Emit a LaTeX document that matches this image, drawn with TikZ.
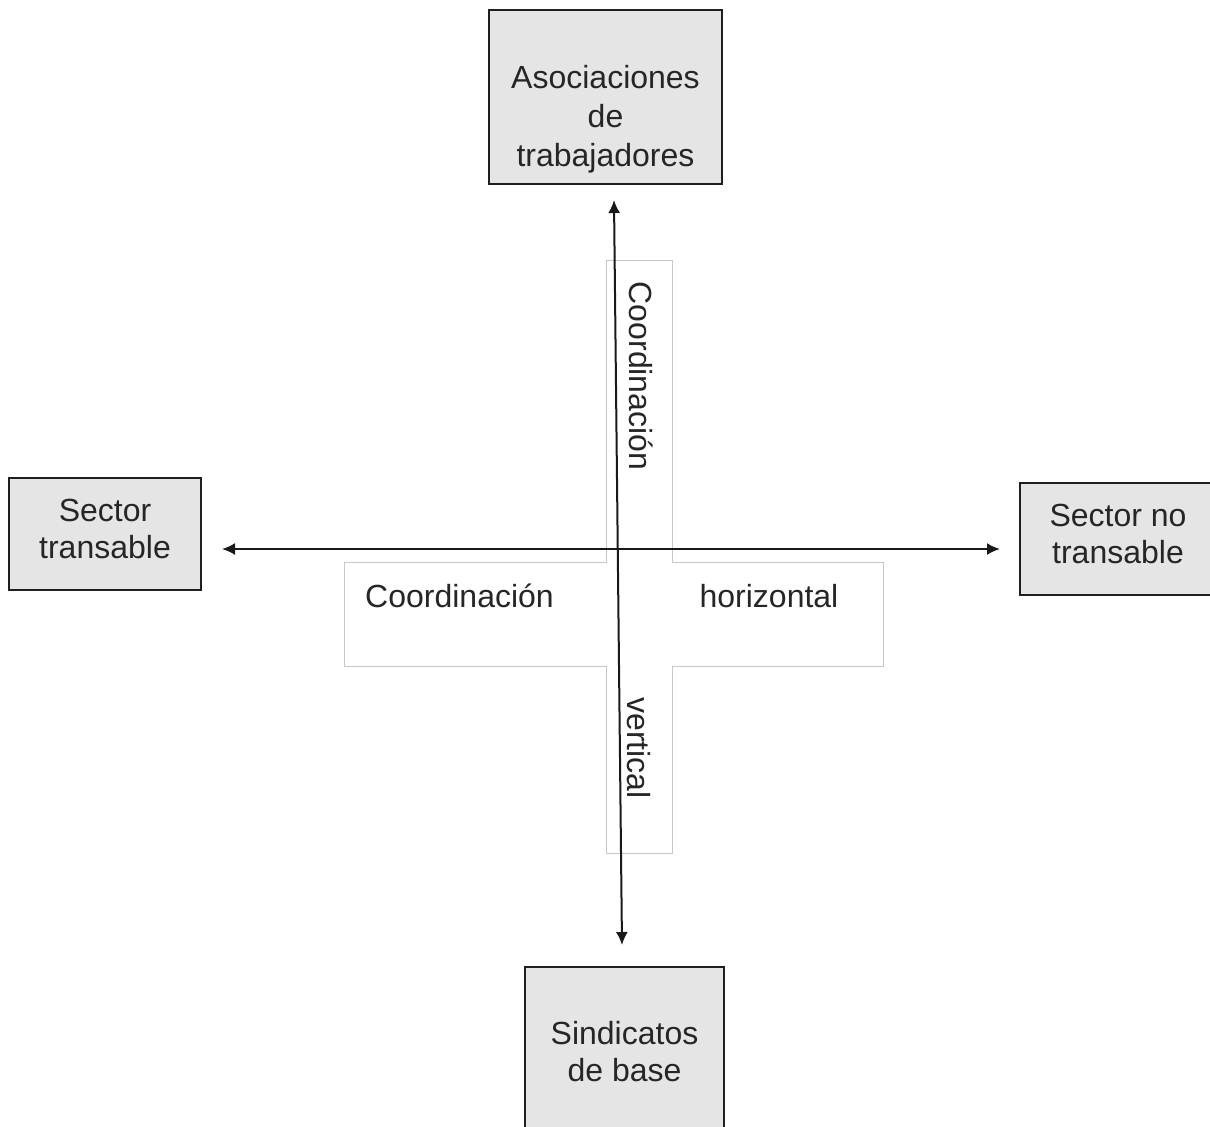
\documentclass[tikz,border=0pt]{standalone}
\usepackage{fontspec}
\setmainfont{Liberation Sans}
\usepackage{tikz}
\usetikzlibrary{arrows.meta}
\usetikzlibrary{positioning}
\tikzstyle{every node}+=[inner sep=0pt]
\tikzstyle{actor} = [rectangle, draw=black!88, line width=1pt, fill=black!10, text=black!85, align=center, font=\fontsize{16}{18.5}\selectfont]
\tikzstyle{tag} = [text=black!85, font=\fontsize{16}{18.5}\selectfont]
\tikzstyle{frame} = [draw=black!22, line width=0.5pt]
\tikzstyle{line} = [draw, black!90, line width=1pt, {Latex[length=6.5pt,width=6pt]}-{Latex[length=6.5pt,width=6pt]}]

\begin{document}
\begin{tikzpicture}[x=0.5pt, y=-0.5pt]
          \clip (0,0) rectangle (1210,1126);
          \useasboundingbox (0,0) rectangle (1210,1126);
          % Cross frame
          \draw [frame] (606,260) -- (672,260) -- (672,562) -- (883,562) -- (883,666) -- (672,666) -- (672,853)
                -- (606,853) -- (606,666) -- (344,666) -- (344,562) -- (606,562) -- cycle;
          % Place nodes
          \node [actor, minimum width=116.5pt, minimum height=87pt] (asoc) at (605.5,97)
                {\raisebox{-15.5pt}[0pt][0pt]{\fontsize{16}{19.5}\selectfont\begin{tabular}{@{}c@{}}Asociaciones\\de\\trabajadores\end{tabular}}};
          \node [actor, minimum width=96pt, minimum height=56pt] (trans) at (105,534)
                {\raisebox{-3.5pt}[0pt][0pt]{\begin{tabular}{@{}c@{}}Sector\\transable\end{tabular}}};
          \node [actor, minimum width=98pt, minimum height=56pt] (notrans) at (1118,539)
                {\raisebox{-3.5pt}[0pt][0pt]{\begin{tabular}{@{}c@{}}Sector no\\transable\end{tabular}}};
          \node [actor, minimum width=99.5pt, minimum height=85pt] (sind) at (624.5,1052) {Sindicatos\\de base};
          \node [tag, rotate=-90] (cv) at (641,376) {Coordinación};
          \node [tag, rotate=-90] (vert) at (639,748) {vertical};
          \node [tag] (ch) at (459.5,596) {Coordinación};
          \node [tag] (hor) at (769,596) {horizontal};
          % Arrow ends
          \coordinate (vtop) at (614,200);
          \coordinate (vbot) at (622,945);
          \coordinate (hleft) at (222,549);
          \coordinate (hright) at (1000,549);
          % Draw edges
          \path [line] (vtop) -- (vbot);
          \path [line] (hleft) -- (hright);
        \end{tikzpicture}
\end{document}
